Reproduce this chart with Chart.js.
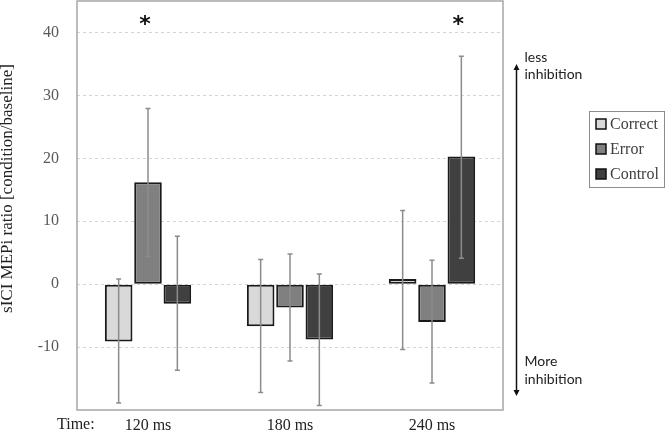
<!DOCTYPE html>
<html>
<head>
<meta charset="utf-8">
<style>
html, body { margin: 0; padding: 0; background: #fff; }
#wrap { width: 666px; height: 431px; }
</style>
<script src="https://cdn.jsdelivr.net/npm/chart.js@4.4.0/dist/chart.umd.min.js"></script>
</head>
<body>
<div id="wrap"><canvas id="chart" width="666" height="431"></canvas></div>
<script>
// values
var categories = ['120 ms', '180 ms', '240 ms'];
var seriesNames = ['Correct', 'Error', 'Control'];
var correctVals = [-9.1, -6.7, 0.8];
var errorVals = [16.2, -3.7, -6.0];
var controlVals = [-3.1, -8.8, 20.3];
var correctLow = [-18.9, -17.2, -10.4];
var correctHigh = [0.8, 3.9, 11.7];
var errorLow = [4.4, -12.2, -15.7];
var errorHigh = [27.9, 4.8, 3.8];
var controlLow = [-13.7, -19.3, 4.1];
var controlHigh = [7.6, 1.6, 36.2];
var yTicks = [-10, 0, 10, 20, 30, 40];
var significant = [[1, 0], [2, 2]]; // [series, category]

var serif = '"Liberation Serif", "Times New Roman", serif';
var sans = 'Lato, "Open Sans", sans-serif';
var fills = ['#d9d9d9', '#808080', '#404040'];

var errorBars = {
    id: 'errorBars',
    afterDatasetsDraw: function(chart) {
        var ctx = chart.ctx, ys = chart.scales.y;
        ctx.save();
        ctx.strokeStyle = '#8c8c8c';
        ctx.lineWidth = 1.5;
        chart.data.datasets.forEach(function(ds, di) {
            chart.getDatasetMeta(di).data.forEach(function(bar, i) {
                var lo = ys.getPixelForValue(ds.errLow[i]);
                var hi = ys.getPixelForValue(ds.errHigh[i]);
                ctx.beginPath();
                ctx.moveTo(bar.x, lo); ctx.lineTo(bar.x, hi);
                ctx.moveTo(bar.x - 2.5, lo); ctx.lineTo(bar.x + 2.5, lo);
                ctx.moveTo(bar.x - 2.5, hi); ctx.lineTo(bar.x + 2.5, hi);
                ctx.stroke();
            });
        });
        // significance stars
        ctx.fillStyle = '#111';
        ctx.font = 'bold 22px "DejaVu Sans", sans-serif';
        ctx.textAlign = 'center';
        ctx.textBaseline = 'middle';
        significant.forEach(function(s) {
            var bar = chart.getDatasetMeta(s[0]).data[s[1]];
            ctx.fillText('*', bar.x - 3, ys.getPixelForValue(42) + 5);
        });
        ctx.restore();
    }
};

var decorations = {
    id: 'decorations',
    afterDraw: function(chart) {
        var ctx = chart.ctx, ca = chart.chartArea;
        ctx.save();
        // frame around the plot
        ctx.strokeStyle = '#a6a6a6';
        ctx.lineWidth = 1.5;
        ctx.strokeRect(ca.left, ca.top, ca.right - ca.left, ca.bottom - ca.top);

        // y title
        ctx.fillStyle = '#222';
        ctx.font = '17px ' + serif;
        ctx.textAlign = 'center';
        ctx.textBaseline = 'middle';
        ctx.save();
        ctx.translate(8, (ca.top + ca.bottom) / 2 - 17);
        ctx.rotate(-Math.PI / 2);
        ctx.fillText('sICI MEPi ratio [condition/baseline]', 0, 0);
        ctx.restore();

        // "Time:" before the category labels
        ctx.font = '16px ' + serif;
        ctx.textAlign = 'left';
        ctx.fillText('Time:', 57, ca.bottom + 15);

        // double arrow with annotations
        var ax = ca.right + 13.5, top = 64, bot = 396;
        ctx.strokeStyle = '#111';
        ctx.fillStyle = '#111';
        ctx.lineWidth = 1.5;
        ctx.beginPath();
        ctx.moveTo(ax, top + 4); ctx.lineTo(ax, bot - 4);
        ctx.stroke();
        ctx.beginPath();
        ctx.moveTo(ax, top); ctx.lineTo(ax - 3, top + 6); ctx.lineTo(ax + 3, top + 6); ctx.closePath();
        ctx.moveTo(ax, bot); ctx.lineTo(ax - 3, bot - 6); ctx.lineTo(ax + 3, bot - 6); ctx.closePath();
        ctx.fill();
        ctx.font = '14px ' + sans;
        ctx.fillStyle = '#222';
        ctx.fillText('less', ax + 8, 57);
        ctx.fillText('inhibition', ax + 8, 74);
        ctx.fillText('More', ax + 8, 361);
        ctx.fillText('inhibition', ax + 8, 379);

        // legend box
        var lx = ca.right + 86, ly = 111, lw = 75, lh = 76;
        ctx.strokeStyle = '#8c8c8c';
        ctx.lineWidth = 1;
        ctx.strokeRect(lx + 0.5, ly + 0.5, lw, lh);
        ctx.font = '16px ' + serif;
        chart.data.datasets.forEach(function(ds, i) {
            var cy = ly + 13 + i * 25;
            ctx.fillStyle = ds.backgroundColor;
            ctx.fillRect(lx + 7, cy - 5, 10, 10);
            ctx.strokeStyle = '#111';
            ctx.lineWidth = 1.5;
            ctx.strokeRect(lx + 7, cy - 5, 10, 10);
            ctx.fillStyle = '#404040';
            ctx.fillText(ds.label, lx + 21, cy + 1);
        });
        ctx.restore();
    }
};

function makeSet(i, vals, lo, hi) {
    return {
        label: seriesNames[i],
        data: vals,
        errLow: lo,
        errHigh: hi,
        backgroundColor: fills[i],
        borderColor: '#1a1a1a',
        borderWidth: 2,
        borderSkipped: false,
        categoryPercentage: 0.62,
        barPercentage: 0.94
    };
}

var ctx = document.getElementById('chart').getContext('2d');
var chart = new Chart(ctx, {
    type: 'bar',
    data: {
        labels: categories,
        datasets: [
            makeSet(0, correctVals, correctLow, correctHigh),
            makeSet(1, errorVals, errorLow, errorHigh),
            makeSet(2, controlVals, controlLow, controlHigh)
        ]
    },
    options: {
        responsive: false,
        animation: false,
        devicePixelRatio: 1,
        layout: { padding: { left: 0, right: 163, top: 1, bottom: 0 } },
        plugins: {
            legend: { display: false },
            tooltip: { enabled: false }
        },
        scales: {
            x: {
                grid: { display: false, drawTicks: false },
                border: { display: false },
                ticks: { color: '#222', font: { family: serif, size: 16 }, padding: 6 },
                afterFit: function(scale) { scale.height = 21; }
            },
            y: {
                min: -20,
                max: 45,
                afterBuildTicks: function(scale) {
                    scale.ticks = yTicks.map(function(v) { return { value: v }; });
                },
                grid: { color: '#d4d4d4', drawTicks: false, lineWidth: 1 },
                border: { display: false, dash: [3, 3] },
                ticks: { color: '#595959', font: { family: serif, size: 16 }, padding: 18 },
                afterFit: function(scale) {
                    scale.width = 77;
                    scale.paddingTop = 0;
                    scale.paddingBottom = 0;
                }
            }
        }
    },
    plugins: [errorBars, decorations]
});
</script>
</body>
</html>
